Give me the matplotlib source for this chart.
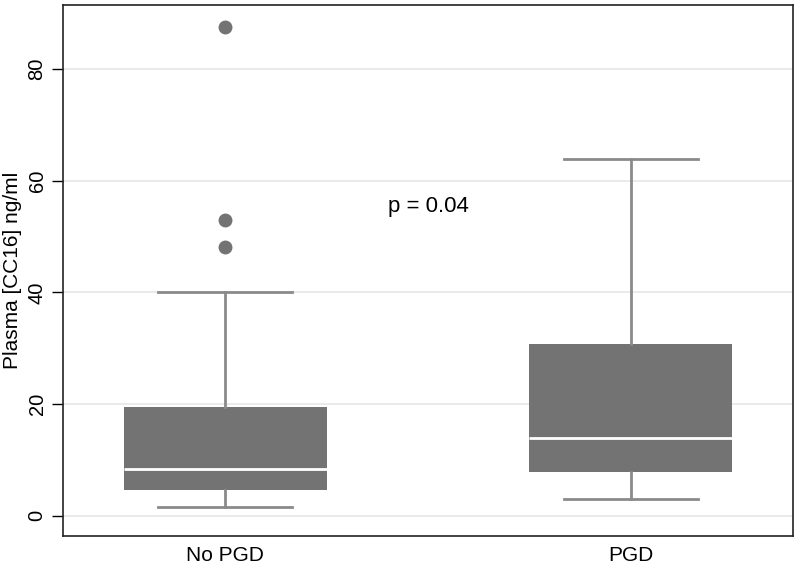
import matplotlib
matplotlib.use('Agg')
import matplotlib.pyplot as plt

# Box summaries (ng/ml)
groups = ['No PGD', 'PGD']
q1 = [4.6, 7.9]
medians = [8.3, 13.9]
q3 = [19.4, 30.7]
whis_lo = [1.5, 3.0]
whis_hi = [40.0, 63.9]
outliers = [[87.4, 52.9, 48.2], []]

plt.rcParams['font.family'] = ['Liberation Sans', 'DejaVu Sans']

stats = []
for i, g in enumerate(groups):
    stats.append(dict(label=g, q1=q1[i], med=medians[i], q3=q3[i],
                      whislo=whis_lo[i], whishi=whis_hi[i], fliers=outliers[i]))

fig = plt.figure(figsize=(8, 5.69), dpi=100)
ax = fig.add_axes([0.079, 0.058, 0.912, 0.933])

box_color = '#737373'
line_color = '#8a8a8a'
ax.bxp(stats, positions=[1, 2], widths=0.5, patch_artist=True,
       boxprops=dict(facecolor=box_color, edgecolor=box_color, linewidth=0),
       medianprops=dict(color='white', linewidth=2),
       whiskerprops=dict(color=line_color, linewidth=2),
       capprops=dict(color=line_color, linewidth=2),
       capwidths=0.33,
       flierprops=dict(marker='o', markerfacecolor='#737373', markeredgecolor='#737373',
                       markersize=9))

ax.set_xlim(0.6, 2.4)
ax.set_ylim(-3.6, 91.4)
ax.set_yticks([0, 20, 40, 60, 80])
ax.yaxis.grid(True, color='#e6e6e6', linewidth=1.2)
ax.set_axisbelow(True)
ax.tick_params(axis='y', labelrotation=90, labelsize=14.5, length=8, width=1, pad=4)
ax.tick_params(axis='x', labelsize=15, length=0, pad=7)
for lab in ax.get_yticklabels():
    lab.set_va('center')
ax.set_ylabel('Plasma [CC16] ng/ml', fontsize=15)
ax.yaxis.set_label_coords(-0.056, 0.5)
for s in ax.spines.values():
    s.set_linewidth(1.2)
    s.set_color('#222222')

ax.text(1.5, 55.3, 'p = 0.04', ha='center', va='center', fontsize=16)

fig.savefig('out.png', dpi=100)
